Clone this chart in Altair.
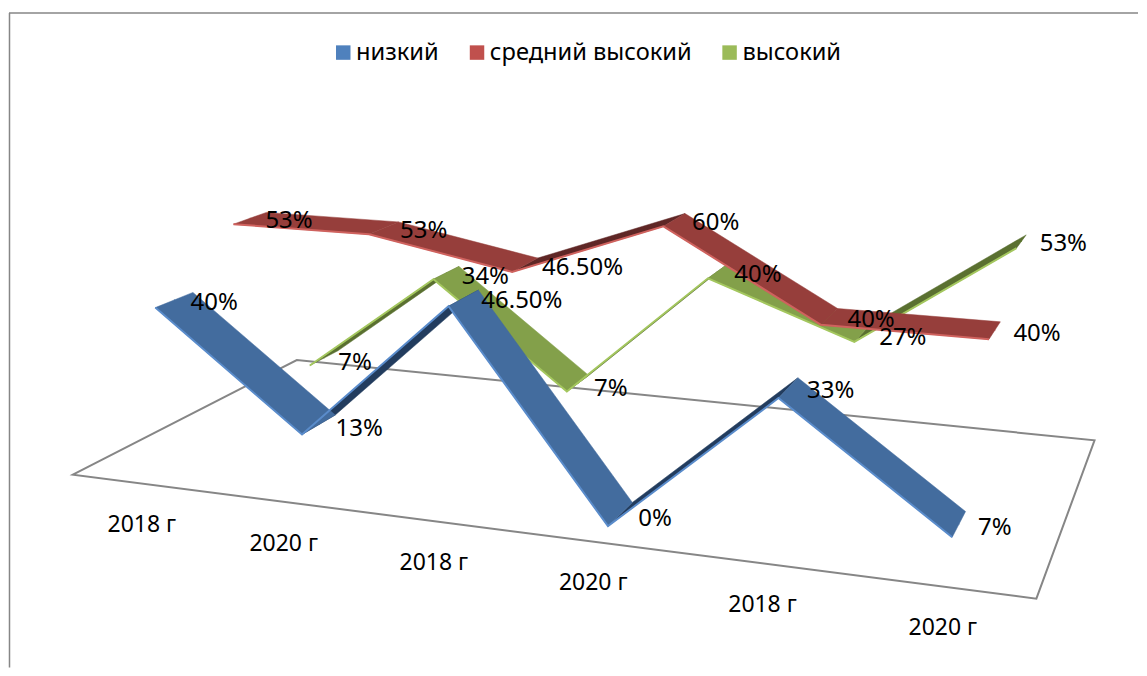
import altair as alt
import numpy as np
import pandas as pd

series = ["низкий", "средний высокий", "высокий"]
categories = ["2018 г", "2020 г", "2018 г", "2020 г", "2018 г", "2020 г"]
low = [40, 13, 46.5, 0, 33, 7]
mid = [53, 53, 46.5, 60, 40, 40]
high = [7, 34, 7, 40, 27, 53]
labels_low = ["40%", "13%", "46.50%", "0%", "33%", "7%"]
labels_mid = ["53%", "53%", "46.50%", "60%", "40%", "40%"]
labels_high = ["7%", "34%", "7%", "40%", "27%", "53%"]
swatch = ["#4f81bd", "#c0504d", "#9bbb59"]
top_face = ["#436c9e", "#963e3b", "#83a04a"]
under_face = ["#223c5e", "#5f2726", "#5a7030"]
edge = ["#5a8ccb", "#cf625e", "#a4c75f"]

FONT = "Noto Sans"
DEPTH = (0.275, 0.725)

# 3-D chart camera: (category/6, series/3, value/60) -> page pixels
CAMERA = np.array([[0.79416, 0.28944, -0.01891, 0.072],
                   [0.02545, -0.03565, -0.25669, 0.47488],
                   [-0.1649, 0.2198, -0.03373, 1.0]])


def proj(u, v, h):
    q = CAMERA @ np.array([u / 6, v / 3, h / 60, 1.0])
    return q[0] / q[2] * 1000, q[1] / q[2] * 1000


X = alt.X("x:Q", axis=None, scale=alt.Scale(domain=[8, 1139]))
Y = alt.Y("y:Q", axis=None, scale=alt.Scale(domain=[668, 8]))

floor_rows = []
for k, (u, v) in enumerate([(0, 0), (0, 3), (6, 3), (6, 0)]):
    x, y = proj(u, v, 0)
    floor_rows.append({"x": x, "y": y, "k": k})
floor = alt.Chart(pd.DataFrame(floor_rows)).mark_line(
    interpolate="linear-closed", color="#868686", strokeWidth=2
).encode(x=X, y=Y, order="k:Q")

frame_left = alt.Chart(pd.DataFrame({"a": [0]})).mark_rule(color="#868686", strokeWidth=1.5).encode(
    x=alt.value(0.5), y=alt.value(4.5), y2=alt.value(660))
frame_top = alt.Chart(pd.DataFrame({"a": [0]})).mark_rule(color="#868686", strokeWidth=1.5).encode(
    x=alt.value(0), x2=alt.value(1131), y=alt.value(4.5))

values = [low, mid, high]
texts = [labels_low, labels_mid, labels_high]
layers = [frame_left, frame_top, floor]

# legend carrier: tiny squares at the ribbon vertices
legend_rows = []
for s in range(3):
    for i in range(6):
        x, y = proj(i + 0.5, s + 0.5, values[s][i])
        legend_rows.append({"x": x, "y": y, "series": series[s]})
layers.append(
    alt.Chart(pd.DataFrame(legend_rows)).mark_square(size=1, opacity=1).encode(
        x=X, y=Y,
        color=alt.Color(
            "series:N",
            scale=alt.Scale(domain=series, range=swatch),
            legend=alt.Legend(
                title=None, orient="none", legendX=323, legendY=32, direction="horizontal",
                columns=3, columnPadding=26, symbolType="square", symbolSize=210,
                symbolStrokeWidth=0, labelFont=FONT, labelFontSize=23.7, labelColor="#000000",
                labelOffset=1, padding=0, labelLimit=400, gridAlign="each",
            ),
        ),
    )
)

for s in [2, 1, 0]:
    faces, edges = [], []
    for i in range(5):
        rising = values[s][i + 1] > values[s][i]
        corners = [(i, DEPTH[0]), (i + 1, DEPTH[0]), (i + 1, DEPTH[1]), (i, DEPTH[1])]
        for k, (j, d) in enumerate(corners):
            x, y = proj(j + 0.5, s + d, values[s][j])
            faces.append({"x": x, "y": y, "k": k, "face": i, "rising": rising,
                          "fill": under_face[s] if rising else top_face[s]})
    for i in range(6):
        x, y = proj(i + 0.5, s + DEPTH[0], values[s][i])
        edges.append({"x": x, "y": y, "k": i})
    df = pd.DataFrame(faces)
    for flag in [True, False]:
        sub = df[df.rising == flag]
        if len(sub):
            layers.append(
                alt.Chart(sub).mark_line(interpolate="linear-closed", strokeWidth=0.5).encode(
                    x=X, y=Y, order="k:Q", detail="face:N",
                    fill=alt.Fill("fill:N", scale=None),
                    stroke=alt.Stroke("fill:N", scale=None),
                )
            )
    layers.append(
        alt.Chart(pd.DataFrame(edges)).mark_line(color=edge[s], strokeWidth=2).encode(
            x=X, y=Y, order="k:Q"
        )
    )

# data labels sit on a slightly enlarged copy of the ribbon's back edge
LABEL_CENTRE = (638, 260)
LABEL_SPREAD = (1.0192, 1.026)
label_rows = []
for s in range(3):
    for i in range(6):
        x, y = proj(i + 0.5, s + DEPTH[1], values[s][i])
        lx = LABEL_CENTRE[0] + (x + 6 - LABEL_CENTRE[0]) * LABEL_SPREAD[0]
        ly = LABEL_CENTRE[1] + (y + 10 - LABEL_CENTRE[1]) * LABEL_SPREAD[1]
        label_rows.append({"x": lx, "y": ly, "t": texts[s][i]})
layers.append(
    alt.Chart(pd.DataFrame(label_rows)).mark_text(
        align="left", baseline="middle", font=FONT, fontSize=24, color="#000000"
    ).encode(x=X, y=Y, text="t:N")
)

cat_rows = []
for i, c in enumerate(categories):
    x, y = proj(i + 0.5, 0, 0)
    cat_rows.append({"x": x, "y": y, "t": c, "i": i})
layers.append(
    alt.Chart(pd.DataFrame(cat_rows)).mark_text(
        align="center", baseline="middle", dx=1, dy=42, font=FONT, fontSize=23, color="#000000"
    ).encode(x=X, y=Y, text="t:N", detail="i:N")
)

chart = alt.layer(*layers).properties(
    width=1131, height=660, padding=0, background="#ffffff"
).configure_view(stroke=None)

chart.save("out.html", embed_options={"renderer": "svg", "actions": False})
